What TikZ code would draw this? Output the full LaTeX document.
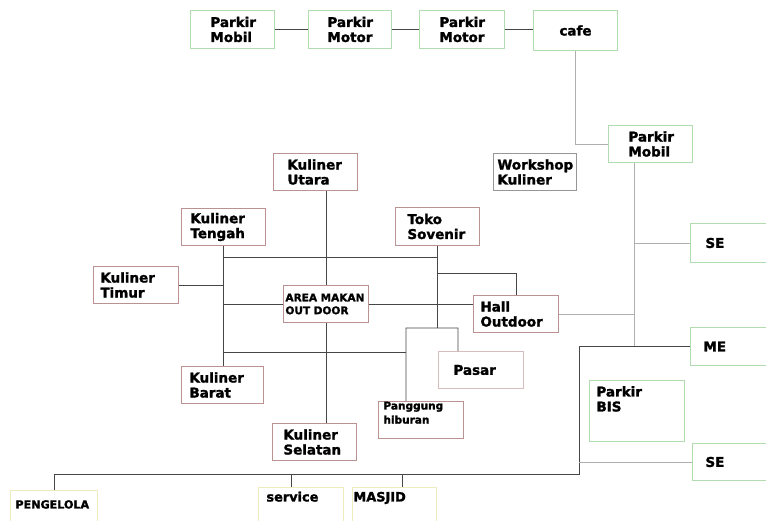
\documentclass[tikz,border=0pt]{standalone}
\usepackage{fontspec}
\setmainfont{DejaVu Sans}[BoldFeatures={FakeBold=1.6}]
\definecolor{grnline}{RGB}{176,220,176}
\definecolor{redline}{RGB}{186,146,146}
\definecolor{greyline}{RGB}{150,150,150}
\definecolor{ylwline}{RGB}{236,236,190}
\definecolor{darkline}{RGB}{70,70,70}
\definecolor{lightline}{RGB}{175,175,175}
\tikzset{
  box/.style = {
    rectangle, draw, line width=0.8pt, anchor=north west,
    align=left, inner ysep=0pt,
    font=\fontsize{11.5}{12.8}\selectfont\bfseries
  },
  parking/.style = {box, draw=grnline},
  culinary/.style = {box, draw=redline},
  plainbox/.style = {box, draw=greyline},
  facility/.style = {
    box, draw=ylwline, inner ysep=0.06cm,
    text height=0.36cm, text depth=1cm
  },
  link/.style = {draw=darkline, line width=0.8pt},
  linklight/.style = {draw=lightline, line width=0.8pt}
}

\begin{document}
\begin{tikzpicture}[x=0.03cm, y=-0.03cm]
  \useasboundingbox (0,0) rectangle (766,520);
  \clip (0,0) rectangle (766,520);
  \fill[white] (0,0) rectangle (766,520);

  % Nodes - parking row
  \node[parking, minimum height=1.14cm, inner xsep=0.6cm, text width=1.32cm] (pmob1) at (190,10) {Parkir\\Mobil};
  \node[parking, minimum height=1.14cm, inner xsep=0.57cm, text width=1.35cm] (pmot1) at (308,10) {Parkir\\Motor};
  \node[parking, minimum height=1.14cm, inner xsep=0.6cm, text width=1.35cm] (pmot2) at (419,10) {Parkir\\Motor};
  \node[parking, minimum height=1.2cm, minimum width=2.52cm] (cafe) at (533,10) {cafe};

  % Nodes - right side
  \node[parking, minimum height=1.11cm, inner xsep=0.6cm, text width=1.32cm] (pmob2) at (608,125) {Parkir\\Mobil};
  \node[plainbox, minimum height=1.11cm, inner xsep=0.12cm, text width=2.25cm] (workshop) at (493,153) {Workshop\\Kuliner};
  \node[parking, minimum height=1.17cm, inner xsep=0.45cm, text width=1.62cm] (se1) at (690,223) {SE};
  \node[parking, minimum height=1.14cm, inner xsep=0.39cm, text width=1.74cm] (me) at (690,327) {ME};
  \node[parking, inner xsep=0.21cm, text width=2.43cm, inner ysep=0.18cm,
        text height=0.3cm, text depth=1.17cm] (bis) at (589,380) {Parkir\\BIS};
  \node[parking, minimum height=1.11cm, inner xsep=0.39cm, text width=1.74cm] (se2) at (692,443) {SE};

  % Nodes - culinary area
  \node[culinary, minimum height=1.11cm, inner xsep=0.42cm, text width=1.68cm] (utara) at (273,153) {Kuliner\\Utara};
  \node[culinary, minimum height=1.11cm, inner xsep=0.27cm, text width=1.98cm] (tengah) at (181,208) {Kuliner\\Tengah};
  \node[culinary, minimum height=1.11cm, inner xsep=0.21cm, text width=2.13cm] (timur) at (93,266) {Kuliner\\Timur};
  \node[culinary, minimum height=1.11cm, inner xsep=0.06cm, text width=2.43cm,
        font=\fontsize{9}{11}\selectfont\bfseries] (area) at (283,285) {AREA MAKAN\\OUT DOOR};
  \node[culinary, minimum height=1.14cm, inner xsep=0.36cm, text width=1.8cm] (toko) at (395,207) {Toko\\Sovenir};
  \node[culinary, minimum height=1.11cm, inner xsep=0.21cm, text width=2.13cm] (hall) at (473,295) {Hall\\Outdoor};
  \node[culinary, draw=redline!60, minimum height=1.11cm, inner xsep=0.45cm, text width=1.65cm] (pasar) at (438,351) {Pasar};
  \node[culinary, inner xsep=0.15cm, text width=2.25cm, inner ysep=0.03cm,
        text height=0.21cm, text depth=0.84cm,
        font=\fontsize{9}{12}\selectfont\bfseries] (panggung) at (378,401) {Panggung\\hiburan};
  \node[culinary, minimum height=1.11cm, inner xsep=0.33cm, text width=1.86cm] (selatan) at (272,423) {Kuliner\\Selatan};
  \node[culinary, minimum height=1.11cm, inner xsep=0.24cm, text width=1.98cm] (barat) at (181,366) {Kuliner\\Barat};

  % Nodes - bottom row
  \node[facility, inner xsep=0.15cm, text width=2.31cm, text height=0.48cm,
        font=\fontsize{9.5}{11}\selectfont\bfseries] (pengelola) at (10,490) {PENGELOLA};
  \node[facility, inner xsep=0.24cm, text width=2.07cm, font=\fontsize{11}{12}\selectfont\bfseries] (service) at (258,487) {service};
  \node[facility, inner xsep=0.03cm, text width=2.46cm, font=\fontsize{11}{12}\selectfont\bfseries] (masjid) at (352,487) {MASJID};

  % Junctions
  \coordinate (spineR) at (634,347);
  \coordinate (busR) at (579,474);
  \coordinate (jTop) at (223,257);
  \coordinate (jHall) at (437,273);
  \coordinate (jStage) at (406,328);
  \coordinate (jBarat) at (406,352);
  \coordinate (pasarIn) at ([xshift=0.6cm]pasar.north west);
  \coordinate (stageIn) at ([xshift=0.84cm]panggung.north west);
  \coordinate (svcIn) at ([xshift=0.99cm]service.north west);
  \coordinate (msjIn) at ([xshift=1.5cm]masjid.north west);

  % Connections - top and right
  \draw[link] (pmob1.east) -- (pmot1.west);
  \draw[link] (pmot1.east) -- (pmot2.west);
  \draw[link] (pmot2.east) -- (pmot2.east -| cafe.west);
  \draw[linklight] (cafe.south) |- (pmob2.west);
  \draw[linklight] (pmob2.south -| spineR) -- (spineR);
  \draw[linklight] (se1.west) -- (se1.west -| spineR);
  \draw[linklight] (hall.east) -- (hall.east -| spineR);
  \draw[link] (me.west) -| (busR) -- (busR -| pengelola.north) -- (pengelola.north);
  \draw[linklight] (se2.west) -- (se2.west -| busR);
  \draw[link] (svcIn |- busR) -- (svcIn);
  \draw[link] (msjIn |- busR) -- (msjIn);

  % Connections - culinary area
  \draw[link] (area.north |- utara.south) -- (area.north);
  \draw[link] (area.south) -- (area.south |- selatan.north);
  \draw[link] (area.east) -- (area.east -| hall.west);
  \draw[link] (tengah.south) -- (tengah.south |- barat.north);
  \draw[link] (jTop) -| (toko.south);
  \draw[link] (toko.south) -- (toko.south |- jStage);
  \draw[link] (jHall) -| (hall.north);
  \draw[link] (pasarIn) |- (jStage) -- (stageIn);
  \draw[link] (timur.east) -- (timur.east -| tengah.south);
  \draw[link] (area.west) -- (area.west -| tengah.south);
  \draw[link] (jBarat -| tengah.south) -- (jBarat);
\end{tikzpicture}
\end{document}
